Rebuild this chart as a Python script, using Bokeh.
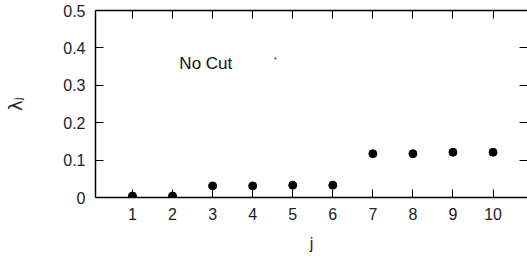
import math
from bokeh.plotting import figure
from bokeh.models import LinearAxis, FixedTicker, Label, Range1d
from bokeh.embed import file_html
from bokeh.resources import INLINE

# data
j_values = [1, 2, 3, 4, 5, 6, 7, 8, 9, 10]
lambda_values = [0.004, 0.004, 0.031, 0.031, 0.033, 0.033, 0.117, 0.117, 0.121, 0.121]
x_ticks = [1, 2, 3, 4, 5, 6, 7, 8, 9, 10]
y_ticks = [0, 0.1, 0.2, 0.3, 0.4, 0.5]
y_tick_labels = ["0", "0.1", "0.2", "0.3", "0.4", "0.5"]
series_name = "No Cut"

FONT = "Liberation Sans"
FS = "16px"

p = figure(width=527, height=256, x_range=Range1d(0.077, 10.86), y_range=Range1d(0, 0.5),
           output_backend="svg", toolbar_location=None,
           min_border_left=95, min_border_right=0, min_border_top=10, min_border_bottom=59)
p.outline_line_color = None
p.grid.visible = False


def style(ax, ticks, show_labels=True, show_line=True):
    ax.ticker = FixedTicker(ticks=ticks)
    ax.major_tick_in = 8
    ax.major_tick_out = 0
    ax.minor_tick_line_color = None
    ax.major_tick_line_color = "black"
    ax.major_tick_line_width = 1
    ax.axis_line_width = 1.5
    ax.axis_line_color = "black" if show_line else None
    ax.major_label_text_font = FONT
    ax.major_label_text_color = "#222222"
    ax.major_label_text_font_size = FS
    if show_labels:
        ax.major_label_standoff = 10
    else:
        ax.major_label_overrides = {t: "" for t in ticks}
        ax.major_label_standoff = 0


style(p.xaxis[0], x_ticks)
p.xaxis[0].axis_label = "j"
p.xaxis[0].axis_label_text_font = FONT
p.xaxis[0].axis_label_text_font_size = FS
p.xaxis[0].axis_label_text_font_style = "normal"
p.xaxis[0].axis_label_text_color = "#222222"
p.xaxis[0].axis_label_standoff = 12

style(p.yaxis[0], y_ticks)
p.yaxis[0].major_label_overrides = {t: s for t, s in zip(y_ticks, y_tick_labels)}
p.yaxis[0].axis_label = "λⱼ"
p.yaxis[0].axis_label_text_font = "DejaVu Sans"
p.yaxis[0].axis_label_text_font_size = "18px"
p.yaxis[0].axis_label_text_font_style = "normal"
p.yaxis[0].axis_label_text_color = "#222222"
p.yaxis[0].axis_label_standoff = 34

top = LinearAxis()
style(top, x_ticks, show_labels=False)
p.add_layout(top, "above")

right = LinearAxis()
style(right, y_ticks, show_labels=False, show_line=False)
p.add_layout(right, "right")

p.scatter(j_values, lambda_values, size=8, color="black")

# key
p.add_layout(Label(x=2.17, y=0.358, text=series_name, text_align="left", text_baseline="alphabetic",
                   text_font=FONT, text_font_size="17px", text_color="#111111"))
p.scatter([4.57], [0.372], size=1.5, color="#666666")

open("out.html", "w").write(file_html(p, INLINE))
